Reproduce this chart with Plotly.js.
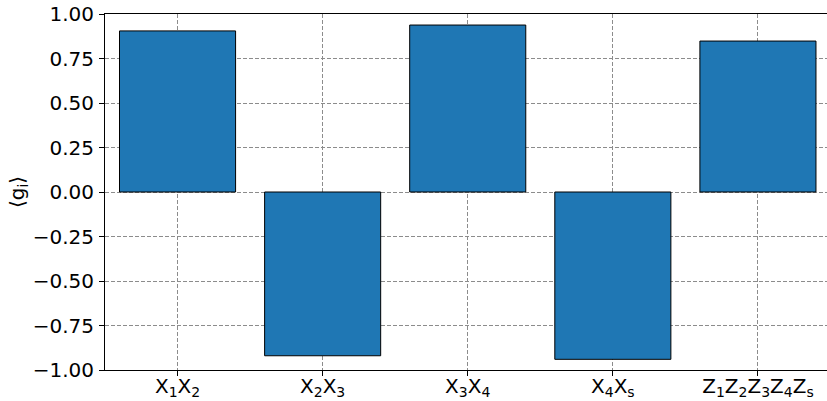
<!DOCTYPE html>
<html>
<head>
<meta charset="utf-8">
<script src="https://cdn.plot.ly/plotly-3.0.1.min.js"></script>
<style>
  html, body { margin: 0; padding: 0; background: #ffffff; }
  #chart { width: 827px; height: 401px; }
</style>
</head>
<body>
<div id="chart"></div>
<script>
// Stabilizer expectation values for each generator
const generators = [
  "X<sub>1</sub>X<sub>2</sub>",
  "X<sub>2</sub>X<sub>3</sub>",
  "X<sub>3</sub>X<sub>4</sub>",
  "X<sub>4</sub>X<sub>s</sub>",
  "Z<sub>1</sub>Z<sub>2</sub>Z<sub>3</sub>Z<sub>4</sub>Z<sub>s</sub>"
];
const expectation = [0.905, -0.920, 0.938, -0.940, 0.848];
const yTickValues = [-1, -0.75, -0.5, -0.25, 0, 0.25, 0.5, 0.75, 1];
const yTickLabels = ["\u22121.00", "\u22120.75", "\u22120.50", "\u22120.25", "0.00", "0.25", "0.50", "0.75", "1.00"];

const positions = generators.map((_, i) => i);

const trace = {
  type: "bar",
  x: positions,
  y: expectation,
  width: 0.8,
  marker: { color: "#1f77b4", line: { color: "#000000", width: 1 } },
  hoverinfo: "skip"
};

const font = { family: "DejaVu Sans, sans-serif", size: 20, color: "#000000" };

const layout = {
  width: 827,
  height: 401,
  margin: { l: 104.5, r: 0, t: 14, b: 31, pad: 0 },
  paper_bgcolor: "#ffffff",
  plot_bgcolor: "#ffffff",
  font: font,
  showlegend: false,
  bargap: 0,
  xaxis: {
    range: [-0.5, 4.476],
    tickmode: "array",
    tickvals: positions,
    ticktext: generators,
    ticks: "outside",
    ticklen: 5,
    tickwidth: 1,
    tickcolor: "#000000",
    tickfont: font,
    ticklabelstandoff: -7,
    showline: true,
    linecolor: "#000000",
    linewidth: 1,
    mirror: true,
    showgrid: true,
    gridcolor: "#8c8c8c",
    gridwidth: 1,
    griddash: "4px,2px",
    zeroline: false
  },
  yaxis: {
    range: [-1, 1],
    tickmode: "array",
    tickvals: yTickValues,
    ticktext: yTickLabels,
    ticks: "outside",
    ticklen: 5,
    tickwidth: 1,
    tickcolor: "#000000",
    tickfont: font,
    ticklabelstandoff: 1,
    showline: true,
    linecolor: "#000000",
    linewidth: 1,
    mirror: false,
    showgrid: true,
    gridcolor: "#8c8c8c",
    gridwidth: 1,
    griddash: "4px,2px",
    zeroline: false,
    title: { text: "\u27e8g<sub>i</sub>\u27e9", font: font, standoff: 2 }
  }
};

Plotly.newPlot("chart", [trace], layout, { staticPlot: true, displayModeBar: false });
</script>
</body>
</html>
